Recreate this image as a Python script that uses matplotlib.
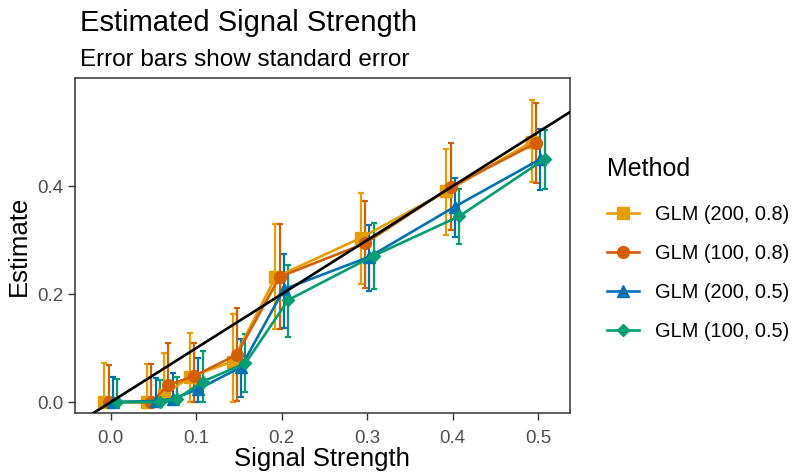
import matplotlib
matplotlib.use("Agg")
import matplotlib.pyplot as plt
import numpy as np

plt.rcParams['font.family'] = ['Liberation Sans', 'DejaVu Sans']

# Signal strengths (x) og metoder
signal = [0.0, 0.05, 0.07, 0.1, 0.15, 0.2, 0.3, 0.4, 0.5]
methods = ["GLM (200, 0.8)", "GLM (100, 0.8)", "GLM (200, 0.5)", "GLM (100, 0.5)"]

# Estimater
est_200_08 = [0.0, 0.0, 0.013, 0.047, 0.075, 0.231, 0.304, 0.390, 0.482]
est_100_08 = [0.0, 0.0, 0.032, 0.048, 0.088, 0.232, 0.294, 0.398, 0.480]
est_200_05 = [0.0, 0.002, 0.006, 0.024, 0.065, 0.209, 0.269, 0.362, 0.450]
est_100_05 = [0.0, 0.0, 0.006, 0.038, 0.072, 0.189, 0.271, 0.344, 0.450]

# Øvre og nedre kant af fejlsøjlerne
hi_200_08 = [0.073, 0.071, 0.091, 0.128, 0.164, 0.329, 0.387, 0.469, 0.559]
hi_100_08 = [0.068, 0.071, 0.110, 0.110, 0.175, 0.329, 0.373, 0.479, 0.553]
hi_200_05 = [0.047, 0.044, 0.053, 0.081, 0.116, 0.275, 0.328, 0.415, 0.506]
hi_100_05 = [0.043, 0.040, 0.046, 0.095, 0.127, 0.253, 0.332, 0.395, 0.504]

lo_200_08 = [0.0, 0.0, 0.0, 0.0, 0.0, 0.136, 0.219, 0.310, 0.408]
lo_100_08 = [0.0, 0.0, 0.0, 0.0, 0.002, 0.136, 0.212, 0.318, 0.406]
lo_200_05 = [0.0, 0.0, 0.0, 0.0, 0.010, 0.138, 0.206, 0.305, 0.393]
lo_100_05 = [0.0, 0.0, 0.0, 0.0, 0.019, 0.121, 0.210, 0.293, 0.394]

estimates = [est_200_08, est_100_08, est_200_05, est_100_05]
highs = [hi_200_08, hi_100_08, hi_200_05, hi_100_05]
lows = [lo_200_08, lo_100_08, lo_200_05, lo_100_05]

colors = ["#E69F00", "#D55E00", "#0072B2", "#009E73"]
markers = ["s", "o", "^", "D"]
msizes = [8.5, 8.5, 9, 6.5]
dodge = [-0.0075, -0.0025, 0.0025, 0.0075]

fig = plt.figure(figsize=(7.96, 4.76), dpi=100)
ax = fig.add_axes([0.094, 0.132, 0.622, 0.704])

x = np.array(signal)
for i in range(4):
    xs = x + dodge[i]
    est = np.array(estimates[i])
    hi = np.array(highs[i])
    lo = np.array(lows[i])
    ax.errorbar(xs, est, yerr=[est - lo, hi - est], fmt="none",
                ecolor=colors[i], elinewidth=1.6, capsize=2, capthick=1.6, zorder=2)
    ax.plot(xs, est, color=colors[i], lw=1.9, marker=markers[i], ms=msizes[i],
            label=methods[i], zorder=3)

# Identitetslinje y = x
ax.axline((0, 0), slope=1, color="black", lw=1.9, zorder=4)

ax.set_xlim(-0.042, 0.537)
ax.set_ylim(-0.0205, 0.6)
ax.set_xticks([0.0, 0.1, 0.2, 0.3, 0.4, 0.5])
ax.set_yticks([0.0, 0.2, 0.4])
ax.set_xticklabels(["0.0", "0.1", "0.2", "0.3", "0.4", "0.5"])
ax.set_yticklabels(["0.0", "0.2", "0.4"])
ax.tick_params(axis="both", direction="out", length=5, width=1, color="#333333",
               labelsize=13.5, labelcolor="#4D4D4D")
ax.tick_params(axis="x", pad=7)
ax.tick_params(axis="y", pad=3)
for s in ax.spines.values():
    s.set_color("#333333")
    s.set_linewidth(1.1)

ax.set_xlabel("Signal Strength", fontsize=18.5, labelpad=0)
ax.set_ylabel("Estimate", fontsize=18.5, labelpad=5)

fig.text(0.101, 0.934, "Estimated Signal Strength", fontsize=21, ha="left", va="baseline")
fig.text(0.101, 0.862, "Error bars show standard error", fontsize=17.5, ha="left", va="baseline")

leg = ax.legend(loc="center left", bbox_to_anchor=(1.075, 0.49), frameon=False,
                title="Method", fontsize=14.4, title_fontsize=18, handlelength=1.6,
                labelspacing=1.0, handletextpad=0.8, borderaxespad=0, borderpad=0)
leg._legend_box.align = "left"
leg._legend_box.sep = 17

fig.savefig("out.png", dpi=100)
